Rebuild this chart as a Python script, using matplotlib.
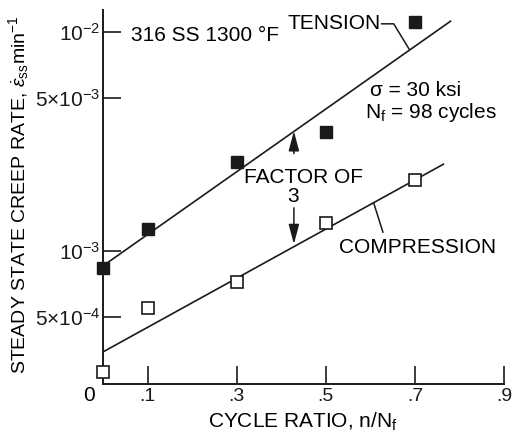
import matplotlib
matplotlib.use("Agg")
import matplotlib.pyplot as plt
from matplotlib.transforms import blended_transform_factory

plt.rcParams["font.family"] = ["Liberation Sans", "DejaVu Sans"]
plt.rcParams["mathtext.fontset"] = "custom"
plt.rcParams["mathtext.rm"] = "Liberation Sans"
plt.rcParams["mathtext.it"] = "Liberation Sans:italic"
plt.rcParams["mathtext.bf"] = "Liberation Sans:bold"

# Measured steady-state creep rates (1/min) vs. cycle ratio n/Nf
tension_ratio = [0.0, 0.1, 0.3, 0.5, 0.7]
tension_rate = [8.4e-4, 1.26e-3, 2.55e-3, 3.5e-3, 1.11e-2]
compression_ratio = [0.0, 0.1, 0.3, 0.5, 0.7]
compression_rate = [2.8e-4, 5.5e-4, 7.2e-4, 1.34e-3, 2.1e-3]

# Straight-line fits (log rate vs. ratio), given by their end points
tension_fit_ratio = [0.0, 0.78]
tension_fit_rate = [8.55e-4, 1.12e-2]
compression_fit_ratio = [0.0, 0.764]
compression_fit_rate = [3.46e-4, 2.49e-3]

xtick_values = [0.1, 0.3, 0.5, 0.7, 0.9]
xtick_labels = [".1", ".3", ".5", ".7", ".9"]
ytick_values = [1e-2, 5e-3, 1e-3, 5e-4]
ytick_labels = [r"10$^{-2}$", r"5×10$^{-3}$", r"10$^{-3}$", r"5×10$^{-4}$"]

FS = 15

fig = plt.figure(figsize=(5.12, 4.36), dpi=100)
ax = fig.add_axes([0.2012, 0.1193, 0.7832, 0.8578])

ax.set_yscale("log")
ax.set_xlim(0, 0.9)
ax.set_ylim(2.47e-4, 1.26e-2)

ax.plot(tension_fit_ratio, tension_fit_rate, color="#1a1a1a", lw=1.2, zorder=2)
ax.plot(compression_fit_ratio, compression_fit_rate, color="#1a1a1a", lw=1.2, zorder=2)
ax.plot(tension_ratio, tension_rate, ls="none", marker="s", ms=8.5,
        mfc="#1a1a1a", mec="#1a1a1a", clip_on=False, zorder=3)
ax.plot(compression_ratio, compression_rate, ls="none", marker="s", ms=8.5,
        mfc="white", mec="#1a1a1a", mew=1.2, clip_on=False, zorder=3)

for side in ("top", "right"):
    ax.spines[side].set_visible(False)
for side in ("left", "bottom"):
    ax.spines[side].set_linewidth(1.4)
    ax.spines[side].set_color("#1a1a1a")

ax.set_xticks(xtick_values)
ax.set_xticklabels(xtick_labels, fontsize=14)
ax.set_yticks(ytick_values)
ax.set_yticklabels(ytick_labels, fontsize=FS)
ax.yaxis.set_minor_locator(matplotlib.ticker.NullLocator())
ax.tick_params(axis="both", direction="in", length=13, width=1.2, colors="#1a1a1a")
ax.tick_params(axis="x", pad=3)
ax.tick_params(axis="y", pad=2)

# Origin label at the corner
trans = blended_transform_factory(ax.transAxes, ax.transAxes)
ax.text(-0.036, -0.03, "0", transform=trans, ha="center", va="center", fontsize=FS)

ax.set_xlabel(r"CYCLE RATIO, n/N$_{\rm f}$", fontsize=FS)
ax.xaxis.set_label_coords(0.498, -0.072)
ax.set_ylabel(r"STEADY STATE CREEP RATE, $\dot{\varepsilon}_{\rm ss}$min$^{-1}$", fontsize=14)
ax.yaxis.set_label_coords(-0.18, 0.505)

tA = ax.transAxes
arrow_props = dict(arrowstyle="-|>,head_length=0.75,head_width=0.2", color="#1a1a1a",
                   lw=1.1, mutation_scale=16, shrinkA=0, shrinkB=0)
ax.text(0.071, 0.933, "316 SS 1300 °F", transform=tA, ha="left", va="center", fontsize=FS)
ax.text(0.461, 0.965, "TENSION", transform=tA, ha="left", va="center", fontsize=FS)
ax.plot([0.695, 0.725, 0.763], [0.963, 0.963, 0.896], transform=tA,
        color="#1a1a1a", lw=1.1)
ax.text(0.665, 0.786, "σ = 30 ksi", transform=tA, ha="left", va="center", fontsize=FS)
ax.text(0.653, 0.725, r"N$_{\rm f}$ = 98 cycles", transform=tA, ha="left",
        va="center", fontsize=FS)
ax.text(0.499, 0.553, "FACTOR OF", transform=tA, ha="center", va="center", fontsize=FS)
ax.text(0.473, 0.500, "3", transform=tA, ha="center", va="center", fontsize=FS)
ax.annotate("", xy=(0.476, 0.676), xytext=(0.476, 0.616), xycoords=tA, textcoords=tA,
            arrowprops=arrow_props)
ax.annotate("", xy=(0.476, 0.374), xytext=(0.476, 0.471), xycoords=tA, textcoords=tA,
            arrowprops=arrow_props)
ax.text(0.588, 0.366, "COMPRESSION", transform=tA, ha="left", va="center", fontsize=FS)
ax.plot([0.675, 0.698], [0.484, 0.406], transform=tA, color="#1a1a1a", lw=1.1)

fig.savefig("out.png", dpi=100, facecolor="white")
